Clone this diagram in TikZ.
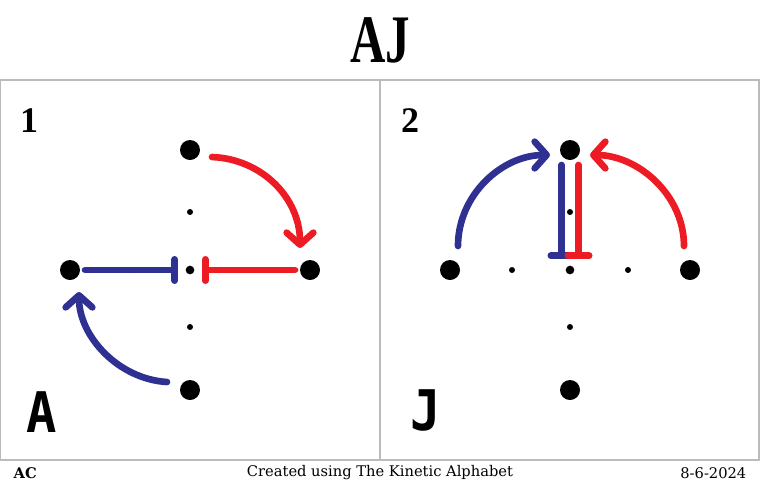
\documentclass[tikz,border=0pt]{standalone}
\usepackage{fontspec}
\setmainfont{Liberation Serif}
\newfontfamily\letterfont{DejaVu Sans Mono}
\newfontfamily\footfont{DejaVu Serif}
\usetikzlibrary{arrows.meta, calc}
\definecolor{kablue}{HTML}{2E3192}
\definecolor{kared}{HTML}{ED1C24}
\definecolor{kagray}{HTML}{BBBBBB}

\begin{document}
\begin{tikzpicture}[
  x=0.75pt, y=-0.75pt,
  bigdot/.style={circle, fill=black, inner sep=0pt, minimum size=15pt},
  middot/.style={circle, fill=black, inner sep=0pt, minimum size=6.5pt},
  smalldot/.style={circle, fill=black, inner sep=0pt, minimum size=4.5pt},
  panel/.style={draw=kagray, line width=0.9pt},
  move/.style={#1, line width=5pt, line cap=round, -{Straight Barb[length=9pt, width=20pt, round]}},
  hold/.style={#1, line width=5pt, line cap=round, -{Bar[width=16pt, round]}},
  number/.style={font=\bfseries\fontsize{27}{27}\selectfont},
  letter/.style={font=\letterfont\bfseries\fontsize{42}{42}\selectfont, xscale=0.9},
  foot/.style={font=\footfont\fontsize{11}{13}\selectfont},
]
  \useasboundingbox (0,0) rectangle (760,490);

  % Title
  \node[font=\bfseries\fontsize{51}{51}\selectfont, xscale=0.72] (title) at (380,40) {AJ};

  % Panels
  \draw[panel] (0,80) rectangle (380,460);
  \draw[panel] (380,80) rectangle (759,460);
  \node[number] (num1) at (29,121) {1};
  \node[number] (num2) at (410,121) {2};
  \node[letter] (letA) at (42,412) {A};
  \node[letter] (letJ) at (426,410) {J};

  % Panel 1 grid
  \node[bigdot] (an) at (190,150) {};
  \node[bigdot] (aw) at (70,270) {};
  \node[bigdot] (ae) at (310,270) {};
  \node[bigdot] (as) at (190,390) {};
  \node[middot] (ac) at (190,270) {};
  \node[smalldot] (an2) at (190,212) {};
  \node[smalldot] (aw2) at (132,270) {};
  \node[smalldot] (ae2) at (248,270) {};
  \node[smalldot] (as2) at (190,327) {};

  % Panel 2 grid
  \node[bigdot] (jn) at (570,150) {};
  \node[bigdot] (jw) at (450,270) {};
  \node[bigdot] (je) at (690,270) {};
  \node[bigdot] (js) at (570,390) {};
  \node[middot] (jc) at (570,270) {};
  \node[smalldot] (jn2) at (570,212) {};
  \node[smalldot] (jw2) at (512,270) {};
  \node[smalldot] (je2) at (628,270) {};
  \node[smalldot] (js2) at (570,327) {};

  % Panel 1 hands
  \draw[move=kared] ($(an)+(22,7)$) .. controls ($(an)+(72,9)$) and ($(ae)+(-10,-72)$) .. ($(ae)+(-10,-22)$);
  \draw[move=kablue] ($(as)+(-23,-8)$) .. controls ($(as)+(-72,-11)$) and ($(aw)+(9,66)$) .. ($(aw)+(9,22)$);
  \draw[hold=kablue] ($(aw)+(15,0)$) -- ($(ac)+(-12,0)$);
  \draw[hold=kared] ($(ae)+(-15,0)$) -- ($(ac)+(12,0)$);

  % Panel 2 hands
  \draw[move=kablue] ($(jw)+(8,-24)$) .. controls ($(jw)+(8,-75)$) and ($(jn)+(-68,5)$) .. ($(jn)+(-20,5)$);
  \draw[move=kared] ($(je)+(-6,-24)$) .. controls ($(je)+(-6,-75)$) and ($(jn)+(68,5)$) .. ($(jn)+(20,5)$);
  \draw[hold=kablue] ($(jn)+(-8.5,15)$) -- ($(jc)+(-8.5,-11)$);
  \draw[hold=kared] ($(jn)+(8.5,15)$) -- ($(jc)+(8.5,-11)$);

  % Footer
  \node[foot, font=\footfont\bfseries\fontsize{11}{13}\selectfont, anchor=west] (author) at (9,473) {AC};
  \node[foot] (credit) at (380,473) {Created using The Kinetic Alphabet};
  \node[foot, anchor=east] (date) at (751,473) {8-6-2024};
\end{tikzpicture}
\end{document}
